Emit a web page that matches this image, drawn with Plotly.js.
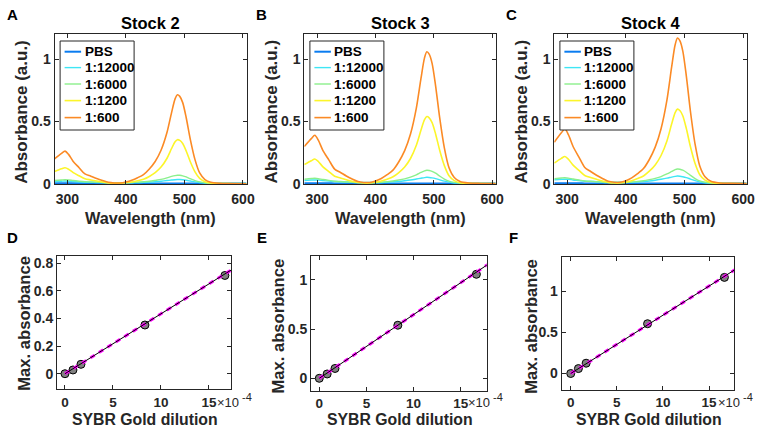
<!DOCTYPE html>
<html>
<head>
<meta charset="utf-8">
<script src="https://cdn.plot.ly/plotly-3.0.1.min.js"></script>
<style>html,body{margin:0;padding:0;background:#fff;}#chart{width:760px;height:428px;}</style>
</head>
<body>
<div id="chart"></div>
<script>
// ---------------- DATA ----------------
const wavelength = [278,290,296,302,310,320,330,340,350,360,370,380,390,400,410,420,430,440,450,460,470,478,484,488,492,497,503,510,518,526,535,545,560,580,606];

const seriesNames = ['PBS','1:12000','1:6000','1:1200','1:600'];
const stockTitles = ['Stock 2','Stock 3','Stock 4'];

// Stock 2
const s2_PBS   = [0.006,0.005,0.005,0.005,0.005,0.005,0.004,0.004,0.004,0.004,0.004,0.004,0.004,0.004,0.004,0.004,0.004,0.004,0.004,0.004,0.004,0.004,0.004,0.004,0.004,0.004,0.004,0.004,0.004,0.004,0.004,0.004,0.004,0.004,0.004];
const s2_12000 = [0.020,0.022,0.023,0.022,0.019,0.016,0.014,0.013,0.012,0.011,0.010,0.009,0.009,0.009,0.010,0.011,0.013,0.015,0.018,0.022,0.027,0.031,0.034,0.035,0.035,0.033,0.029,0.023,0.016,0.011,0.007,0.005,0.004,0.003,0.003];
const s2_6000  = [0.028,0.032,0.034,0.032,0.027,0.022,0.018,0.016,0.014,0.012,0.010,0.009,0.009,0.010,0.012,0.014,0.017,0.021,0.028,0.036,0.048,0.060,0.067,0.070,0.069,0.065,0.056,0.042,0.027,0.016,0.009,0.006,0.004,0.003,0.003];
const s2_1200  = [0.100,0.122,0.130,0.118,0.090,0.065,0.042,0.032,0.023,0.015,0.008,0.005,0.005,0.009,0.016,0.026,0.038,0.060,0.090,0.135,0.204,0.284,0.338,0.355,0.349,0.324,0.264,0.178,0.097,0.044,0.018,0.007,0.003,0.002,0.001];
const s2_600   = [0.200,0.245,0.263,0.237,0.180,0.130,0.080,0.062,0.043,0.027,0.013,0.008,0.008,0.016,0.030,0.050,0.075,0.120,0.180,0.270,0.410,0.572,0.682,0.715,0.702,0.652,0.531,0.358,0.195,0.088,0.035,0.013,0.005,0.003,0.002];

// Stock 3
const s3_PBS   = [0.006,0.005,0.005,0.005,0.005,0.005,0.004,0.004,0.004,0.004,0.004,0.004,0.004,0.004,0.004,0.004,0.004,0.004,0.004,0.004,0.004,0.004,0.004,0.004,0.004,0.004,0.004,0.004,0.004,0.004,0.004,0.004,0.004,0.004,0.004];
const s3_12000 = [0.028,0.031,0.032,0.031,0.027,0.023,0.019,0.017,0.015,0.013,0.012,0.011,0.011,0.011,0.012,0.014,0.017,0.020,0.025,0.031,0.039,0.046,0.051,0.053,0.052,0.049,0.043,0.033,0.022,0.014,0.008,0.006,0.004,0.004,0.003];
const s3_6000  = [0.038,0.043,0.045,0.042,0.035,0.028,0.022,0.019,0.016,0.013,0.011,0.010,0.010,0.011,0.014,0.018,0.023,0.031,0.041,0.054,0.073,0.092,0.105,0.110,0.108,0.101,0.086,0.063,0.039,0.022,0.012,0.007,0.005,0.004,0.003];
const s3_1200  = [0.155,0.186,0.200,0.180,0.137,0.099,0.062,0.048,0.034,0.022,0.011,0.007,0.007,0.013,0.023,0.038,0.057,0.091,0.136,0.204,0.310,0.432,0.515,0.540,0.530,0.492,0.401,0.270,0.147,0.066,0.027,0.010,0.004,0.003,0.002];
const s3_600   = [0.300,0.363,0.390,0.351,0.267,0.193,0.119,0.092,0.064,0.040,0.019,0.012,0.012,0.024,0.044,0.074,0.111,0.178,0.267,0.400,0.608,0.848,1.011,1.060,1.041,0.967,0.787,0.531,0.289,0.130,0.052,0.019,0.007,0.004,0.003];

// Stock 4
const s4_PBS   = [0.006,0.005,0.005,0.005,0.005,0.005,0.004,0.004,0.004,0.004,0.004,0.004,0.004,0.004,0.004,0.004,0.004,0.004,0.004,0.004,0.004,0.004,0.004,0.004,0.004,0.004,0.004,0.004,0.004,0.004,0.004,0.004,0.004,0.004,0.004];
const s4_12000 = [0.033,0.037,0.038,0.037,0.032,0.027,0.022,0.020,0.018,0.015,0.014,0.013,0.013,0.013,0.014,0.017,0.020,0.024,0.030,0.037,0.046,0.055,0.061,0.063,0.062,0.058,0.051,0.039,0.026,0.016,0.010,0.007,0.005,0.004,0.004];
const s4_6000  = [0.042,0.048,0.050,0.047,0.039,0.031,0.024,0.021,0.018,0.014,0.012,0.011,0.011,0.012,0.015,0.020,0.025,0.034,0.045,0.059,0.080,0.100,0.115,0.120,0.118,0.110,0.094,0.069,0.043,0.024,0.013,0.008,0.005,0.004,0.003];
const s4_1200  = [0.168,0.205,0.220,0.198,0.151,0.109,0.068,0.052,0.037,0.023,0.012,0.007,0.007,0.014,0.026,0.043,0.064,0.102,0.152,0.228,0.345,0.480,0.572,0.600,0.589,0.547,0.446,0.300,0.164,0.074,0.030,0.011,0.004,0.003,0.002];
const s4_600   = [0.335,0.410,0.440,0.395,0.300,0.215,0.132,0.100,0.070,0.044,0.021,0.013,0.013,0.026,0.049,0.082,0.123,0.196,0.295,0.443,0.672,0.936,1.116,1.170,1.149,1.067,0.869,0.585,0.319,0.144,0.057,0.021,0.008,0.005,0.003];

// Max absorbance vs dilution
const dilution = [0, 0.0000833, 0.0001667, 0.0008333, 0.0016667];
const maxAbs2 = [0, 0.027, 0.068, 0.353, 0.712];
const maxAbs3 = [0, 0.044, 0.100, 0.540, 1.058];
const maxAbs4 = [0, 0.060, 0.125, 0.604, 1.166];

// Linear fits (end points)
const fitX  = [0, 0.0018];
const fitY2 = [0, 0.781];
const fitY3 = [0, 1.166];
const fitY4 = [0, 1.273];

const xTickVals = [0, 0.0005, 0.0010, 0.0015];
const xTickText = ['0','5','10','15'];

// ---------------- STYLE ----------------
const FONT = 'Liberation Sans, Arial, Helvetica, sans-serif';
const INK = '#262626';
const colors = ['#0a7cf0', '#3ee6f5', '#8cf08c', '#fcf52a', '#fb8a25'];
const widths = [2, 1.4, 1.4, 1.6, 1.6];

const stocks = [
  [s2_PBS, s2_12000, s2_6000, s2_1200, s2_600],
  [s3_PBS, s3_12000, s3_6000, s3_1200, s3_600],
  [s4_PBS, s4_12000, s4_6000, s4_1200, s4_600]
];

const traces = [];
stocks.forEach((set, si) => {
  set.forEach((vals, k) => {
    traces.push({
      x: wavelength, y: vals, type: 'scatter', mode: 'lines',
      name: seriesNames[k], showlegend: false,
      line: {color: colors[k], width: widths[k], shape: 'spline', smoothing: 0.8},
      xaxis: 'x' + (si === 0 ? '' : (si + 1)),
      yaxis: 'y' + (si === 0 ? '' : (si + 1)),
      hoverinfo: 'skip'
    });
  });
});

const fits = [fitY2, fitY3, fitY4];
const maxes = [maxAbs2, maxAbs3, maxAbs4];
maxes.forEach((m, i) => {
  const xa = 'x' + (i + 4), ya = 'y' + (i + 4);
  traces.push({x: dilution, y: m, type: 'scatter', mode: 'markers', showlegend: false,
    marker: {size: 8, color: '#808080', line: {color: '#000', width: 1}}, xaxis: xa, yaxis: ya});
  traces.push({x: fitX, y: fits[i], type: 'scatter', mode: 'lines', showlegend: false,
    line: {color: '#ff00ff', width: 3, dash: '5px,5px'}, xaxis: xa, yaxis: ya});
  traces.push({x: fitX, y: fits[i], type: 'scatter', mode: 'lines', showlegend: false,
    line: {color: '#000', width: 1}, xaxis: xa, yaxis: ya});
});

function axis(extra) {
  return Object.assign({
    showline: true, mirror: 'ticks', ticks: 'inside', ticklen: 4, tickwidth: 1,
    tickcolor: INK, linecolor: INK, linewidth: 1, showgrid: false, zeroline: false,
    automargin: false,
    tickfont: {family: FONT, size: 14, weight: 'bold', color: INK}
  }, extra);
}

const W = 760, H = 428;
const topX = [[54.5, 246.5], [304.3, 495.7], [554.3, 746.7]];
const topY = [34.3, 184.3];
const botX = [[57, 231], [311, 486.7], [561.7, 734.3]];
const botY = [[256, 389.3], [255.7, 390.7], [256.7, 390]];
const botXR = [[-0.000083, 0.00173], [-0.000088, 0.001776], [-0.000098, 0.001774]];
const botYR = [[-0.113, 0.853], [-0.126, 1.247], [-0.2, 1.417]];
const botYTicks = [[0, 0.2, 0.4, 0.6, 0.8], [0, 0.5, 1], [0, 0.5, 1]];
const botYText = [['0','0.2','0.4','0.6','0.8'], ['0','0.5','1'], ['0','0.5','1']];

// title annotation positions (px)
const absTitleX = [20.8, 270.5, 520.5];
const maxTitleX = [24.2, 277.5, 530.8];
const maxTitleY = [323.5, 326, 326];
const expSplitX = [240, 491, 741];   // boundary between "×10" and the raised "-4"

const layout = {
  width: W, height: H, margin: {l: 0, r: 0, t: 0, b: 0},
  paper_bgcolor: '#fff', plot_bgcolor: '#fff',
  font: {family: FONT, color: INK},
  annotations: [], shapes: [], showlegend: false
};

function note(text, px, py, size, extra) {
  return Object.assign({text: text, xref: 'paper', yref: 'paper', x: px / W, y: 1 - py / H,
    xanchor: 'center', yanchor: 'middle', showarrow: false,
    font: {family: FONT, size: size, weight: 'bold', color: INK}}, extra || {});
}

// legend geometry (px)
const legLeftOffset = 5.6, legTop = 41, legBottom = 130, legWidth = 74;
const legRowY = [51.7, 67.6, 84.0, 100.6, 117.6];

for (let i = 0; i < 3; i++) {
  const s = i === 0 ? '' : (i + 1);
  layout['xaxis' + s] = axis({
    domain: [topX[i][0] / W, topX[i][1] / W], range: [278, 606],
    tickvals: [300, 400, 500, 600], anchor: 'y' + s, ticklabelstandoff: 2
  });
  layout['yaxis' + s] = axis({
    domain: [1 - topY[1] / H, 1 - topY[0] / H], range: [-0.003, 1.2],
    tickvals: [0, 0.5, 1], ticktext: ['0', '0.5', '1'], anchor: 'x' + s
  });
  const b = i + 4;
  layout['xaxis' + b] = axis({
    domain: [botX[i][0] / W, botX[i][1] / W], range: botXR[i],
    tickvals: xTickVals, ticktext: xTickText, anchor: 'y' + b,
    tickfont: {family: FONT, size: 13.5, weight: 'bold', color: INK}
  });
  layout['yaxis' + b] = axis({
    domain: [1 - botY[i][1] / H, 1 - botY[i][0] / H], range: botYR[i],
    tickvals: botYTicks[i], ticktext: botYText[i], anchor: 'x' + b
  });
  // axis titles
  layout.annotations.push(note('Wavelength (nm)', (topX[i][0] + topX[i][1]) / 2, 218, 16.3));
  layout.annotations.push(note('Absorbance (a.u.)', absTitleX[i], 112, 17, {textangle: -90}));
  layout.annotations.push(note('SYBR Gold dilution', (botX[i][0] + botX[i][1]) / 2 + 1, 419.2, 15.8));
  layout.annotations.push(note('Max. absorbance', maxTitleX[i], maxTitleY[i], 16.6, {textangle: -90}));
  // Stock titles
  layout.annotations.push(note(stockTitles[i], (topX[i][0] + topX[i][1]) / 2, 22.7, 16.5, {font: {family: FONT, size: 16.5, weight: 'bold', color: '#000'}}));
  // exponent label: "×10" plus a raised "-4"
  layout.annotations.push(note('×10', expSplitX[i], 402.5, 13,
    {xanchor: 'right', borderpad: 0, font: {family: FONT, size: 13, color: INK}}));
  layout.annotations.push(note('-4', expSplitX[i] + 0.5, 396.5, 11,
    {xanchor: 'left', borderpad: 0, font: {family: FONT, size: 11, color: INK}}));
  // custom legend box
  const lx0 = topX[i][0] + legLeftOffset;
  layout.shapes.push({type: 'rect', xref: 'paper', yref: 'paper',
    x0: lx0 / W, x1: (lx0 + legWidth) / W, y0: 1 - legBottom / H, y1: 1 - legTop / H,
    line: {color: INK, width: 1}, fillcolor: '#fff', layer: 'above'});
  seriesNames.forEach((nm, k) => {
    layout.shapes.push({type: 'line', xref: 'paper', yref: 'paper',
      x0: (lx0 + 4.5) / W, x1: (lx0 + 21) / W, y0: 1 - legRowY[k] / H, y1: 1 - legRowY[k] / H,
      line: {color: colors[k], width: widths[k]}, layer: 'above'});
    layout.annotations.push(note(nm, lx0 + 22.5, legRowY[k], 13.5,
      {xanchor: 'left', font: {family: FONT, size: 13.5, weight: 'bold', color: '#000'}}));
  });
}

const letters = [['A', 12, 15], ['B', 261, 15], ['C', 511, 15], ['D', 12, 237], ['E', 262, 237], ['F', 513, 237]];
letters.forEach(l => {
  layout.annotations.push(note(l[0], l[1], l[2], 15, {font: {family: FONT, size: 15, weight: 'bold', color: '#000'}}));
});

Plotly.newPlot('chart', traces, layout, {displayModeBar: false, staticPlot: true});
</script>
</body>
</html>
